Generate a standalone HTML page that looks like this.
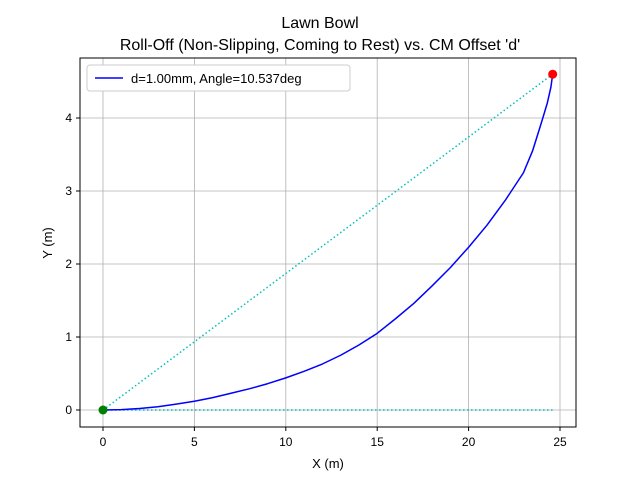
<!DOCTYPE html>
<html><head><meta charset="utf-8"><style>body{margin:0;background:#fff}svg{display:block;font-family:"Liberation Sans","DejaVu Sans",sans-serif}</style></head>
<body>
<svg id="chart" width="640" height="480">
<text x="320" y="28" text-anchor="middle" font-size="16">Lawn Bowl</text>
<text x="320" y="50" text-anchor="middle" font-size="16">Roll-Off (Non-Slipping, Coming to Rest) vs. CM Offset 'd'</text>
<g id="grid"></g><g id="marks"></g><g id="ticks"></g>
<rect x="80" y="58" width="496" height="369" fill="none" stroke="#000" stroke-width="1"/>
<text x="328" y="468" text-anchor="middle" font-size="13">X (m)</text>
<text x="52" y="243" text-anchor="middle" font-size="13" transform="rotate(-90 52 243)">Y (m)</text>
<g>
<rect x="87" y="65" width="263" height="26" rx="3" fill="#fff" stroke="#ccc"/>
<line x1="95" y1="78" x2="123" y2="78" stroke="#0000ff" stroke-width="1.5"/>
<text x="131" y="83" font-size="13">d=1.00mm, Angle=10.537deg</text>
</g>
</svg>
<script>
const xTicks=[0,5,10,15,20,25];
const yTicks=[0,1,2,3,4];
const pathX=[0,1,2,3,4,5,6,7,8,9,10,11,12,13,14,15,16,17,18,19,20,21,22,23,23.5,24,24.3,24.5,24.6];
const pathY=[0,0.005,0.02,0.045,0.08,0.12,0.17,0.23,0.29,0.36,0.44,0.53,0.63,0.75,0.89,1.05,1.25,1.46,1.70,1.95,2.23,2.53,2.87,3.25,3.55,3.95,4.2,4.42,4.6];
const startPt=[0,0];
const endPt=[24.6,4.6];
const NS="http://www.w3.org/2000/svg";
const sx=v=>103+v*18.28, sy=v=>410-v*73;
function mk(tag,attrs,parent){const e=document.createElementNS(NS,tag);for(const k in attrs)e.setAttribute(k,attrs[k]);document.getElementById(parent).appendChild(e);return e;}
xTicks.forEach(t=>{
 const g=mk('line',{x1:sx(t),x2:sx(t),y1:58,y2:427,stroke:'#b0b0b0','stroke-width':0.8},'grid');
 
 
 const tk=mk('line',{x1:sx(t),x2:sx(t),y1:427,y2:431,stroke:'#000'},'ticks');
 
 
 const l=mk('text',{x:sx(t),y:446,'text-anchor':'middle','font-size':12},'ticks');l.textContent=t;
 
 
});
yTicks.forEach(t=>{
 const g=mk('line',{x1:80,x2:576,y1:sy(t),y2:sy(t),stroke:'#b0b0b0','stroke-width':0.8},'grid');
 
 
 const tk=mk('line',{x1:76,x2:80,y1:sy(t),y2:sy(t),stroke:'#000'},'ticks');
 
 
 const l=mk('text',{x:72,y:sy(t)+4,'text-anchor':'end','font-size':12},'ticks');l.textContent=t;
 
 
});
const d1=mk('line',{x1:sx(startPt[0]),y1:sy(startPt[1]),x2:sx(endPt[0]),y2:sy(endPt[1]),stroke:'#00bfbf','stroke-width':1.5,'stroke-dasharray':'1.5,2.5'},'marks');


const d2=mk('line',{x1:sx(startPt[0]),y1:sy(startPt[1]),x2:sx(endPt[0]),y2:sy(startPt[1]),stroke:'#00bfbf','stroke-width':1.5,'stroke-dasharray':'1.5,2.5'},'marks');


const p=mk('polyline',{points:pathX.map((x,i)=>sx(x)+','+sy(pathY[i])).join(' '),fill:'none',stroke:'#0000ff','stroke-width':1.5,'stroke-linejoin':'round'},'marks');


const s=mk('circle',{cx:sx(startPt[0]),cy:sy(startPt[1]),r:4.5,fill:'#008000'},'marks');


const e=mk('circle',{cx:sx(endPt[0]),cy:sy(endPt[1]),r:4.5,fill:'#ff0000'},'marks');


</script>
</body></html>
